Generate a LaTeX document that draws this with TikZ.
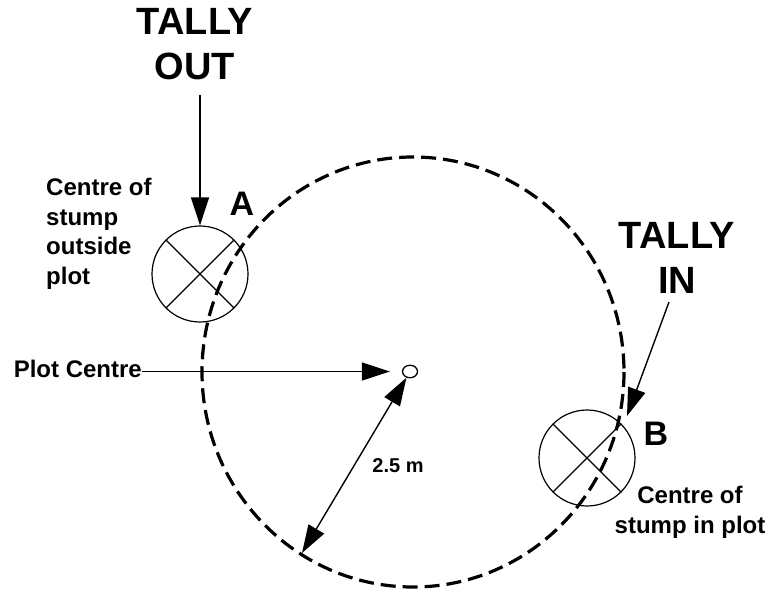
\documentclass[tikz,border=0pt]{standalone}
\usepackage{fontspec}
\setmainfont{Liberation Sans}
\usetikzlibrary{arrows.meta,shapes.geometric}
\begin{document}
\begin{tikzpicture}[x=1pt,y=-1pt,
  bigtext/.style={font=\fontsize{38}{45}\selectfont\bfseries, inner sep=0pt, align=center},
  lettertext/.style={font=\fontsize{34}{40}\selectfont\bfseries, inner sep=0pt},
  smalltext/.style={font=\fontsize{24}{29.5}\selectfont\bfseries, inner sep=0pt},
  stump/.style={draw, circle, line width=1.2pt, minimum size=96pt, inner sep=0pt},
  plotline/.style={line width=3.2pt, dash pattern=on 15pt off 7pt},
  arr/.style={line width=1.4pt, -{Triangle[length=28pt,width=18pt]}},
  dblarr/.style={line width=1.4pt, {Triangle[length=28pt,width=18pt]}-{Triangle[length=28pt,width=18pt]}}
]
\useasboundingbox (0,0) rectangle (773,592);

% plot boundary
\draw[plotline] (413,372) ellipse [x radius=211, y radius=215];

% plot centre
\node[draw, ellipse, line width=1.3pt, minimum width=15pt, minimum height=12.5pt, inner sep=0pt] (pc) at (410,371.5) {};
\coordinate (rim) at (302,553);

% stumps
\node[stump] (sa) at (200,274) {};
\draw[line width=1.2pt] (sa.45) -- (sa.225) (sa.135) -- (sa.315);
\node[stump] (sb) at (587,458) {};
\draw[line width=1.2pt] (sb.45) -- (sb.225) (sb.135) -- (sb.315);

% labels
\node[bigtext, anchor=north] (tout) at (195,8) {TALLY\\OUT};
\node[bigtext, anchor=north] (tin) at (677,222) {TALLY\\IN};
\node[lettertext, anchor=base] (la) at (242,215) {A};
\node[lettertext, anchor=base] (lb) at (656,445) {B};
\node[smalltext, anchor=north west, align=left] (txa) at (46,178) {Centre of\\stump\\outside\\plot};
\node[smalltext, anchor=north, align=center] (txb) at (690,486) {Centre of\\stump in plot};
\node[smalltext, anchor=base east] (plc) at (142,377) {Plot Centre};
\node[font=\fontsize{20}{24}\selectfont\bfseries, inner sep=0pt, anchor=base] (dist) at (398,472) {2.5 m};

% connectors
\coordinate (toutstart) at (200,95);
\draw[arr] (toutstart) -- (sa.north);
\coordinate (tinstart) at (669,302);
\coordinate (tipb) at (627,416);
\draw[arr] (tinstart) -- (tipb);
\draw[arr, shorten >=12pt] (plc.east |- pc.west) -- (pc.west);
\draw[dblarr] (pc.240) -- (rim);
\end{tikzpicture}
\end{document}
